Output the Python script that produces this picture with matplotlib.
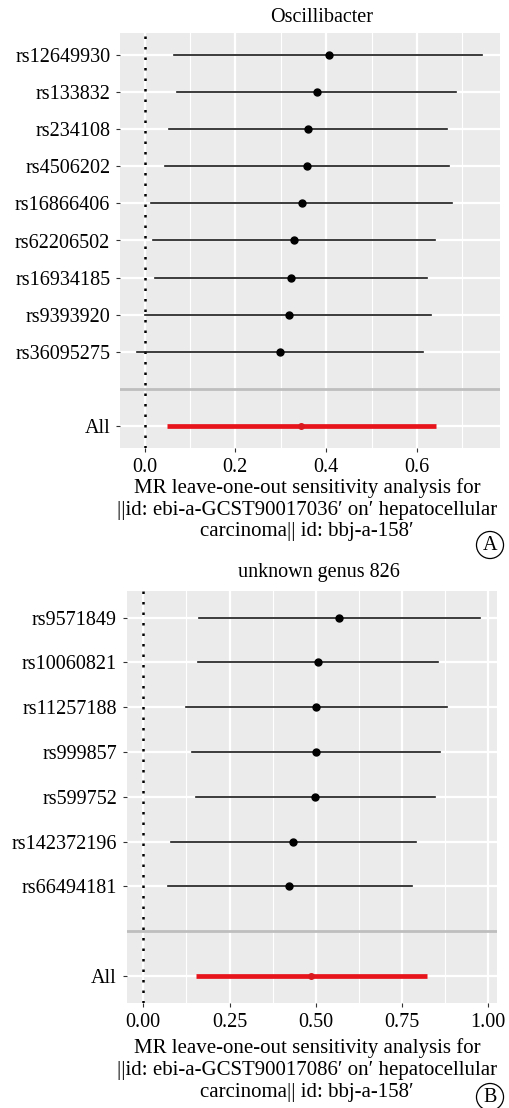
import matplotlib
matplotlib.use('Agg')
import matplotlib.pyplot as plt

plt.rcParams['font.family'] = ['Liberation Serif', 'DejaVu Serif']

# panel A: Oscillibacter
snps_a = ['rs12649930', 'rs133832', 'rs234108', 'rs4506202', 'rs16866406',
          'rs62206502', 'rs16934185', 'rs9393920', 'rs36095275']
b_a = [0.406, 0.379, 0.360, 0.358, 0.346, 0.329, 0.322, 0.318, 0.298]
lo_a = [0.066, 0.072, 0.054, 0.045, 0.014, 0.019, 0.023, 0.002, -0.016]
hi_a = [0.743, 0.687, 0.666, 0.671, 0.677, 0.640, 0.622, 0.630, 0.613]
all_a = (0.345, 0.050, 0.641)
ticks_a = [0.0, 0.2, 0.4, 0.6]
ticklab_a = ['0.0', '0.2', '0.4', '0.6']
minor_a = [0.1, 0.3, 0.5, 0.7]

# panel B: unknown genus 826
snps_b = ['rs9571849', 'rs10060821', 'rs11257188', 'rs999857', 'rs599752',
          'rs142372196', 'rs66494181']
b_b = [0.568, 0.507, 0.501, 0.501, 0.499, 0.435, 0.423]
lo_b = [0.161, 0.159, 0.124, 0.142, 0.153, 0.079, 0.071]
hi_b = [0.976, 0.854, 0.880, 0.860, 0.845, 0.790, 0.779]
all_b = (0.487, 0.153, 0.823)
ticks_b = [0.0, 0.25, 0.5, 0.75, 1.0]
ticklab_b = ['0.00', '0.25', '0.50', '0.75', '1.00']
minor_b = [0.125, 0.375, 0.625, 0.875]

lab_a = ["MR leave-one-out sensitivity analysis for",
         "||id: ebi-a-GCST90017036\u2032 on\u2032 hepatocellular",
         "carcinoma|| id: bbj-a-158\u2032"]
lab_b = ["MR leave-one-out sensitivity analysis for",
         "||id: ebi-a-GCST90017086\u2032 on\u2032 hepatocellular",
         "carcinoma|| id: bbj-a-158\u2032"]

W, H = 509, 1108
fig = plt.figure(figsize=(W / 100, H / 100), dpi=100)
FS = 14.5


def panel(rect, snps, b, lo, hi, allv, ticks, ticklab, minor, xlim, title, title_xy,
          xlab, xlab_ys, letter, letter_xy):
    ax = fig.add_axes(rect)
    ax.set_facecolor('#EBEBEB')
    n = len(snps) + 2
    # positions: All=0, gap=1, snps from n-1 downward
    ys = [n - 1 - i for i in range(len(snps))]
    ax.set_xlim(*xlim)
    ax.set_ylim(-0.6, n - 1 + 0.6)
    ax.set_xticks(ticks)
    ax.set_xticklabels(ticklab)
    ax.set_xticks(minor, minor=True)
    ax.set_yticks(ys + [0])
    ax.set_yticklabels(snps + ['All'])
    ax.grid(which='major', color='white', lw=1.6)
    ax.grid(which='minor', axis='x', color='white', lw=0.8)
    ax.set_axisbelow(True)
    for s in ax.spines.values():
        s.set_visible(False)
    ax.tick_params(which='major', length=3, color='#333333', labelsize=FS,
                   labelcolor='black', pad=4)
    ax.tick_params(which='minor', length=0)
    ax.axhline(1, color='#BEBEBE', lw=2, zorder=2)
    ax.axvline(0, color='black', lw=1.8, ls=(0, (1, 3.2)), zorder=3)
    for y, bb, l, h in zip(ys, b, lo, hi):
        ax.plot([l, h], [y, y], color='#1a1a1a', lw=1.2, zorder=4)
        ax.plot(bb, y, 'o', color='black', ms=5, zorder=5)
    ax.plot([allv[1], allv[2]], [0, 0], color='#E8141C', lw=3.4, zorder=4,
            solid_capstyle='butt')
    ax.plot(allv[0], 0, 'o', color='#D91A1F', ms=4, zorder=5)
    fig.text(title_xy[0] / W, 1 - title_xy[1] / H, title, ha='center', va='center',
             fontsize=FS)
    for line, ly in zip(xlab, xlab_ys):
        fig.text(307 / W, 1 - ly / H, line, ha='center', va='center', fontsize=15)
    fig.text(letter_xy[0] / W, 1 - letter_xy[1] / H, letter, ha='center', va='center',
             fontsize=FS,
             bbox=dict(boxstyle='circle,pad=0.2', fc='white', ec='black', lw=0.9))
    return ax


panel([120 / W, 1 - 448 / H, 380 / W, 415 / H], snps_a, b_a, lo_a, hi_a, all_a,
      ticks_a, ticklab_a, minor_a, (-0.054, 0.783), 'Oscillibacter', (322, 17),
      lab_a, [488, 510, 532], 'A', (490, 545))
panel([126.7 / W, 1 - 1003 / H, 370.6 / W, 412.3 / H], snps_b, b_b, lo_b, hi_b, all_b,
      ticks_b, ticklab_b, minor_b, (-0.048, 1.026), 'unknown genus 826', (319, 572),
      lab_b, [1048, 1070, 1092], 'B', (490, 1097))

fig.savefig('out.png', dpi=100)
